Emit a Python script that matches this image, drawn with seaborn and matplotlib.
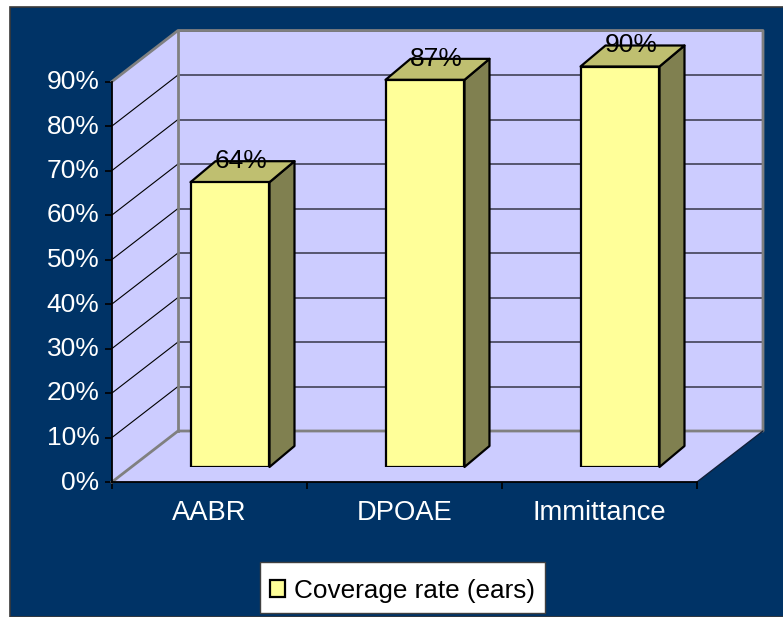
import matplotlib
matplotlib.use("Agg")
import matplotlib.pyplot as plt
import seaborn as sns
from matplotlib.patches import Polygon, Rectangle
from matplotlib.transforms import ScaledTranslation

categories = ["AABR", "DPOAE", "Immittance"]
values = [64, 87, 90]
value_labels = ["64%", "87%", "90%"]
y_ticks = [0, 10, 20, 30, 40, 50, 60, 70, 80, 90]
y_tick_labels = ["0%", "10%", "20%", "30%", "40%", "50%", "60%", "70%", "80%", "90%"]
series_name = "Coverage rate (ears)"

W, H = 783, 617
NAVY, WALL, FRONT, TOP, SIDE = "#003366", "#CCCCFF", "#FFFF99", "#BFBF70", "#808050"

sns.set_theme(style="white")
plt.rcParams["font.family"] = ["Liberation Sans", "DejaVu Sans"]

fig = plt.figure(figsize=(W / 100, H / 100), dpi=100, facecolor="white")
fig.add_artist(Rectangle((9.5 / W, 0), (W - 9) / W, (H - 6.5) / H, transform=fig.transFigure,
                         facecolor=NAVY, edgecolor="#3a3a3a", linewidth=1.2, zorder=-5))


def px_axes(left, right, top, bottom):
    return fig.add_axes([left / W, 1 - bottom / H, (right - left) / W, (bottom - top) / H])


# main axes: front plane of the chart box
L, R, T, B = 112, 697, 81.5, 482
ax = px_axes(L, R, T, B)
ax.patch.set_alpha(0)
ax.set_xlim(-0.5, 2.5)
ax.set_ylim(0, 90)
xpp = 3 / (R - L)            # data units per pixel
ypp = 90 / (B - T)
dx, dy = 66 * xpp, 51 * ypp  # depth of the box

ax.add_patch(Polygon([(-0.5, 0), (2.5, 0), (2.5 + dx, dy), (-0.5 + dx, dy)], facecolor=WALL,
                     edgecolor="none", clip_on=False, zorder=1))
ax.add_patch(Polygon([(-0.5, 0), (-0.5 + dx, dy), (-0.5 + dx, 90 + dy), (-0.5, 90)], facecolor=WALL,
                     edgecolor="none", clip_on=False, zorder=1))
ax.add_patch(Rectangle((-0.5 + dx, dy), 3, 90, facecolor=WALL, edgecolor="none", clip_on=False, zorder=1))

for t in y_ticks[1:]:
    ax.plot([-0.5 + dx, 2.5 + dx], [t + dy, t + dy], color="#55556f", lw=1.4, clip_on=False, zorder=2)
    if t < 90:
        ax.plot([-0.5, -0.5 + dx], [t, t + dy], color="black", lw=0.8, clip_on=False, zorder=2)

GRAY = dict(color="#808080", lw=2, clip_on=False, zorder=3, solid_capstyle="projecting")
ax.plot([-0.5 + dx, -0.5 + dx], [dy, 90 + dy], **GRAY)
ax.plot([-0.5, -0.5 + dx, 2.5 + dx, 2.5 + dx, -0.5 + dx, -0.5], [90, 90 + dy, 90 + dy, dy, dy, 0], **GRAY)
ax.plot([2.5, 2.5 + dx], [0, dy], color="#10203a", lw=1, clip_on=False, zorder=3)

for s in ("top", "right"):
    ax.spines[s].set_visible(False)
for s in ("left", "bottom"):
    ax.spines[s].set_color("black")
    ax.spines[s].set_linewidth(1.3)
    ax.spines[s].set_zorder(4)
ax.set_yticks(y_ticks, y_tick_labels)
ax.set_xticks([-0.5, 0.5, 1.5, 2.5], ["", "", "", ""])
ax.set_xticks(range(len(categories)), categories, minor=True)
ax.tick_params(axis="y", length=5, width=1.2, color="black", left=True, pad=4, labelsize=19, labelcolor="white")
ax.tick_params(axis="x", which="major", length=5, width=1.2, color="black", bottom=True)
ax.tick_params(axis="x", which="minor", length=0, pad=13, labelsize=19.7, labelcolor="white")
up = ScaledTranslation(0, 2 / 100, fig.dpi_scale_trans)
for lab in ax.get_yticklabels():
    lab.set_transform(lab.get_transform() + up)

# bars: same scales, shifted into the depth of the box
ox, oy = 20.5, 15
bar_ax = px_axes(L + ox, R + ox, T - oy, B - oy)
bar_ax.patch.set_alpha(0)
sns.barplot(x=categories, y=values, color=FRONT, saturation=1, width=0.405, edgecolor="black",
            linewidth=1.6, label=series_name, ax=bar_ax, zorder=5)
bar_ax.set_xlim(-0.5, 2.5)
bar_ax.set_ylim(0, 90)
bar_ax.axis("off")
bx, by = 25 * xpp, 21 * ypp  # depth of each bar
for patch, label in zip(bar_ax.patches[:len(values)], value_labels):
    x0, w, h = patch.get_x(), patch.get_width(), patch.get_height()
    x1 = x0 + w
    style = dict(edgecolor="black", linewidth=1.6, joinstyle="round", clip_on=False, zorder=4)
    bar_ax.add_patch(Polygon([(x1, 0), (x1 + bx, by), (x1 + bx, h + by), (x1, h)], facecolor=SIDE, **style))
    bar_ax.add_patch(Polygon([(x0, h), (x0 + bx, h + by), (x1 + bx, h + by), (x1, h)], facecolor=TOP, **style))
    bar_ax.annotate(label, (x0 + w / 2, h), xytext=(11 * 0.72, 21 * 0.72), textcoords="offset points",
                    ha="center", va="center", fontsize=19, color="black", zorder=6, annotation_clip=False)

handles, labels = bar_ax.get_legend_handles_labels()
if bar_ax.get_legend() is not None:
    bar_ax.get_legend().remove()
leg = fig.legend(handles, labels, loc="lower left", bbox_to_anchor=(259.5 / W, 1 - 613 / H, 285 / W, 49 / H),
                 bbox_transform=fig.transFigure, mode="expand", fontsize=18.8, labelcolor="black", frameon=True,
                 fancybox=False, facecolor="white", edgecolor="#404040", framealpha=1, handlelength=0.57,
                 handleheight=0.6, handletextpad=0.34, borderaxespad=0, borderpad=0.4,
                 title=" ", title_fontsize=1, labelspacing=0.2)
leg.get_frame().set_linewidth(1)

fig.savefig("out.png", dpi=100, facecolor="white")
